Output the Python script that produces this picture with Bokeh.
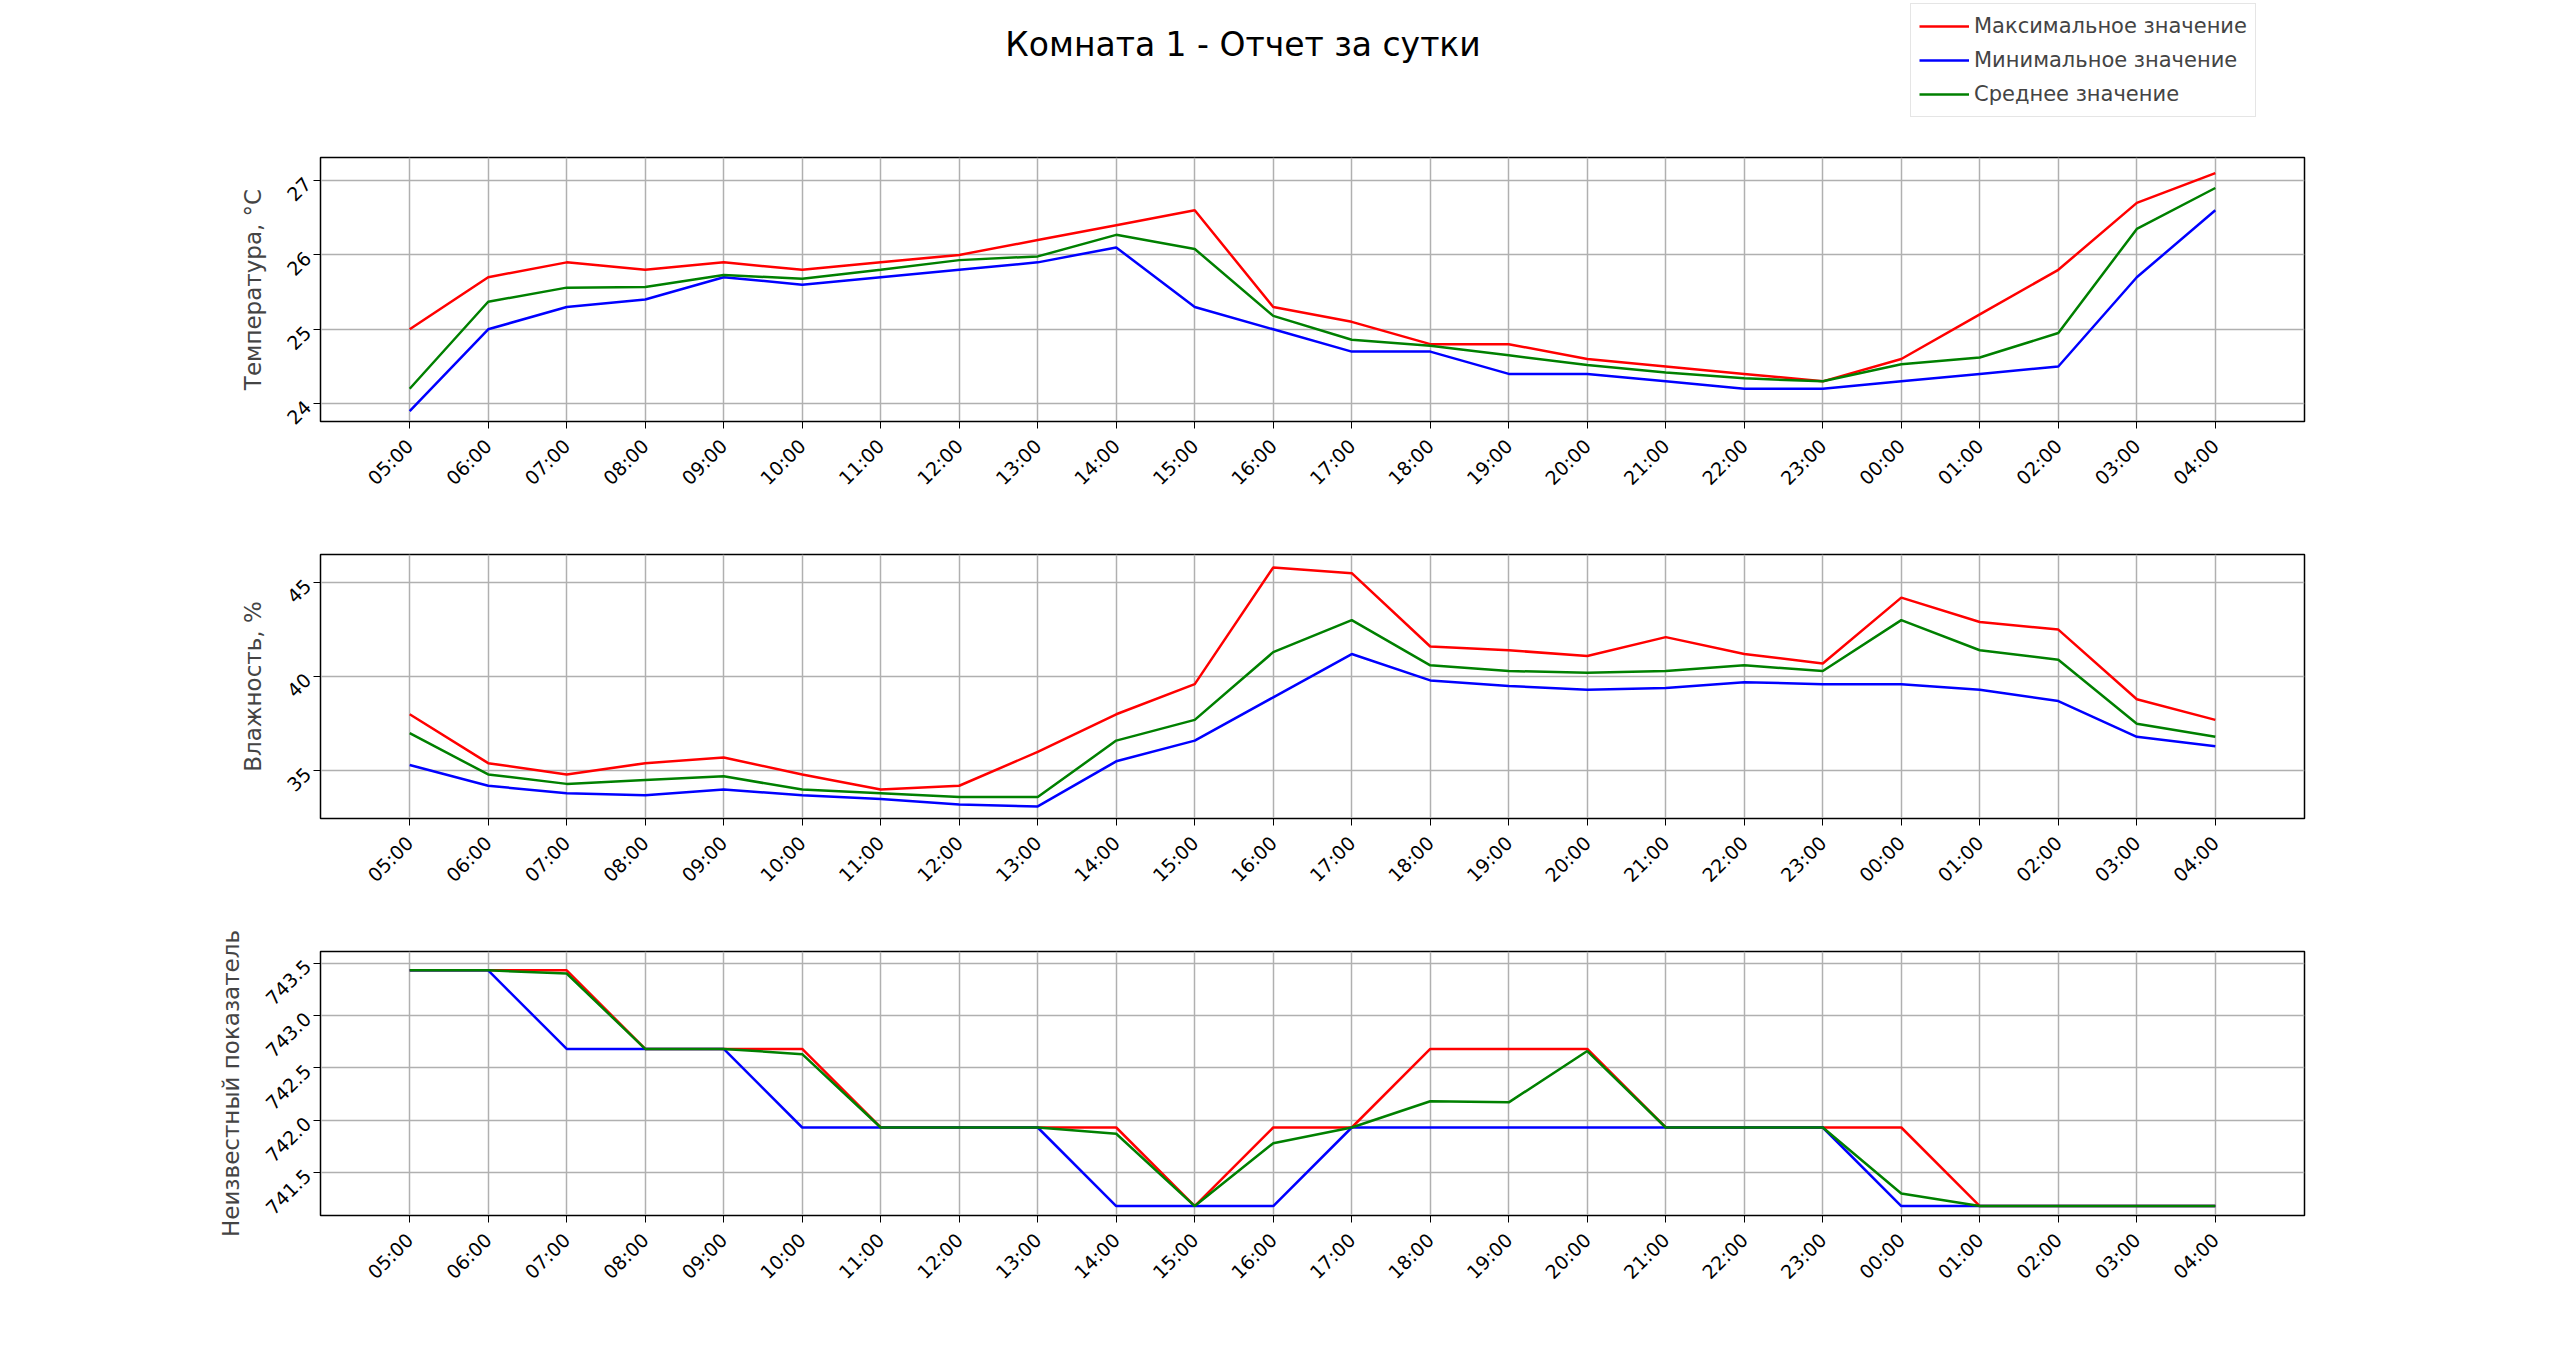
from bokeh.plotting import figure
from bokeh.layouts import column
from bokeh.models import FactorRange, Range1d, FixedTicker, Legend, LegendItem, NumeralTickFormatter
from bokeh.embed import file_html
from bokeh.resources import INLINE
from math import pi

hours = ["05:00", "06:00", "07:00", "08:00", "09:00", "10:00", "11:00", "12:00", "13:00", "14:00",
         "15:00", "16:00", "17:00", "18:00", "19:00", "20:00", "21:00", "22:00", "23:00", "00:00",
         "01:00", "02:00", "03:00", "04:00"]

temp_max = [25.0, 25.7, 25.9, 25.8, 25.9, 25.8, 25.9, 26.0, 26.2, 26.4, 26.6, 25.3, 25.1, 24.8, 24.8, 24.6,
            24.5, 24.4, 24.3, 24.6, 25.2, 25.8, 26.7, 27.1]
temp_min = [23.9, 25.0, 25.3, 25.4, 25.7, 25.6, 25.7, 25.8, 25.9, 26.1, 25.3, 25.0, 24.7, 24.7, 24.4, 24.4,
            24.3, 24.2, 24.2, 24.3, 24.4, 24.5, 25.7, 26.6]
temp_avg = [24.2, 25.37, 25.56, 25.57, 25.73, 25.68, 25.8, 25.93, 25.98, 26.27, 26.08, 25.18, 24.86, 24.78,
            24.65, 24.52, 24.42, 24.34, 24.3, 24.53, 24.62, 24.95, 26.35, 26.9]

hum_max = [38.0, 35.4, 34.8, 35.4, 35.7, 34.8, 34.0, 34.2, 36.0, 38.0, 39.6, 45.8, 45.5, 41.6, 41.4, 41.1,
           42.1, 41.2, 40.7, 44.2, 42.9, 42.5, 38.8, 37.7]
hum_min = [35.3, 34.2, 33.8, 33.7, 34.0, 33.7, 33.5, 33.2, 33.1, 35.5, 36.6, 38.9, 41.2, 39.8, 39.5, 39.3,
           39.4, 39.7, 39.6, 39.6, 39.3, 38.7, 36.8, 36.3]
hum_avg = [37.0, 34.8, 34.3, 34.5, 34.7, 34.0, 33.8, 33.6, 33.6, 36.6, 37.7, 41.3, 43.0, 40.6, 40.3, 40.2,
           40.3, 40.6, 40.3, 43.0, 41.4, 40.9, 37.5, 36.8]

pr_max = [743.43, 743.43, 743.43, 742.68, 742.68, 742.68, 741.93, 741.93, 741.93, 741.93, 741.18, 741.93,
          741.93, 742.68, 742.68, 742.68, 741.93, 741.93, 741.93, 741.93, 741.18, 741.18, 741.18, 741.18]
pr_min = [743.43, 743.43, 742.68, 742.68, 742.68, 741.93, 741.93, 741.93, 741.93, 741.18, 741.18, 741.18,
          741.93, 741.93, 741.93, 741.93, 741.93, 741.93, 741.93, 741.18, 741.18, 741.18, 741.18, 741.18]
pr_avg = [743.43, 743.43, 743.40, 742.68, 742.68, 742.63, 741.93, 741.93, 741.93, 741.87, 741.18, 741.78,
          741.93, 742.18, 742.17, 742.66, 741.93, 741.93, 741.93, 741.30, 741.18, 741.18, 741.18, 741.18]

FONT = "DejaVu Sans"
W = 2522
LEFT = 320
RIGHT = 218

# header with title and legend
head = figure(width=W, height=137, output_backend="svg", toolbar_location=None,
              x_range=Range1d(0, 1), y_range=Range1d(0, 1),
              min_border_left=LEFT, min_border_right=RIGHT, min_border_top=0, min_border_bottom=0)
head.axis.visible = False
head.grid.visible = False
head.outline_line_color = None
head.text(x=[0.465], y=[0.68], text=["Комната 1 - Отчет за сутки"], text_align="center",
          text_baseline="middle", text_font_size="33px", text_font={"value": FONT}, text_color="black")
items = []
for name, col in [("Максимальное значение", "red"), ("Минимальное значение", "blue"),
                  ("Среднее значение", "green")]:
    r = head.line(x=[5, 6], y=[5, 5], line_color=col, line_width=2.5)
    items.append(LegendItem(label=name, renderers=[r]))
leg = Legend(items=items, location=(1590, 20), label_text_font=FONT, label_text_font_size="21px",
             border_line_color="#cccccc", border_line_width=1.5, padding=8, spacing=6,
             glyph_width=50, label_height=28, glyph_height=28, margin=0)
head.add_layout(leg, "center")


def panel(ymin, ymax, ticks, label, series, fmt=None):
    p = figure(width=W, height=397, output_backend="svg", toolbar_location=None,
               x_range=FactorRange(*hours, range_padding=0.053), y_range=Range1d(ymin, ymax),
               min_border_left=LEFT, min_border_right=RIGHT, min_border_top=20, min_border_bottom=113)
    for vals, col in series:
        p.line(x=hours, y=vals, line_color=col, line_width=2.5)
    p.outline_line_color = "black"
    p.outline_line_width = 1.5
    p.grid.grid_line_color = "#b0b0b0"
    p.grid.grid_line_width = 1.5
    p.yaxis.ticker = FixedTicker(ticks=ticks)
    if fmt:
        p.yaxis.formatter = NumeralTickFormatter(format=fmt)
    p.xaxis.major_label_orientation = pi / 4
    p.yaxis.major_label_orientation = pi / 4
    p.axis.major_label_text_font = FONT
    p.axis.major_label_text_font_size = "19px"
    p.axis.major_label_text_color = "black"
    p.xaxis.major_label_standoff = 14
    p.yaxis.major_label_standoff = 6
    p.axis.axis_line_color = "black"
    p.axis.major_tick_line_color = "black"
    p.axis.major_tick_out = 7
    p.axis.major_tick_in = 0
    p.axis.minor_tick_line_color = None
    p.yaxis.axis_label = label
    p.yaxis.axis_label_text_font = FONT
    p.yaxis.axis_label_text_font_size = "23px"
    p.yaxis.axis_label_text_font_style = "normal"
    p.yaxis.axis_label_standoff = 12
    return p


p1 = panel(23.76, 27.31, [24, 25, 26, 27], "Температура, °C",
           [(temp_max, "red"), (temp_min, "blue"), (temp_avg, "green")])
p2 = panel(32.46, 46.49, [35, 40, 45], "Влажность, %",
           [(hum_max, "red"), (hum_min, "blue"), (hum_avg, "green")])
p3 = panel(741.09, 743.61, [741.5, 742.0, 742.5, 743.0, 743.5], "Неизвестный показатель",
           [(pr_max, "red"), (pr_min, "blue"), (pr_avg, "green")], fmt="0.0")

p = column(head, p1, p2, p3)
open("out.html", "w").write(file_html(p, INLINE))
